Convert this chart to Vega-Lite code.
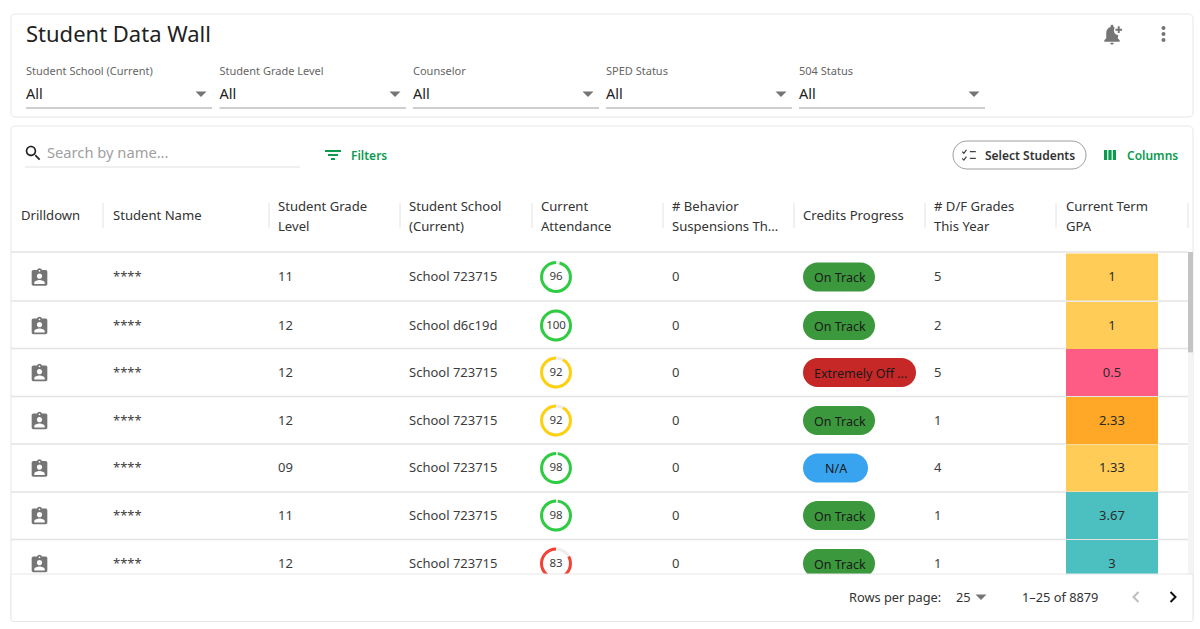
{
  "$schema": "https://vega.github.io/schema/vega-lite/v6.json",
  "width": 1200,
  "height": 629,
  "padding": 0,
  "autosize": {"type": "fit", "contains": "padding"},
  "background": "white",
  "config": {
    "view": {"stroke": null},
    "text": {"font": "Noto Sans", "baseline": "middle", "align": "left"}
  },
  "datasets": {
    "cards": [
      {"col": 1, "colEnd": 62, "row": -17, "rowEnd": -12},
      {"col": 1, "colEnd": 62, "row": -11, "rowEnd": 8.5}
    ],
    "headerSeparators": [
      {"col": 8, "row": -5, "rowEnd": -1}, {"col": 13, "row": -5, "rowEnd": -1}, {"col": 19, "row": -5, "rowEnd": -1},
      {"col": 23, "row": -5, "rowEnd": -1}, {"col": 29, "row": -5, "rowEnd": -1}, {"col": 33, "row": -5, "rowEnd": -1},
      {"col": 42, "row": -5, "rowEnd": -1}, {"col": 51, "row": -5, "rowEnd": -1}, {"col": 61, "row": -5, "rowEnd": -1}
    ],
    "rowRules": [
      {"col": 1, "colEnd": 61, "row": 0.5},
      {"col": 1, "colEnd": 61, "row": 1.5},
      {"col": 1, "colEnd": 61, "row": 2.5},
      {"col": 1, "colEnd": 61, "row": 3.5},
      {"col": 1, "colEnd": 61, "row": 4.5},
      {"col": 1, "colEnd": 61, "row": 5.5},
      {"col": 1, "colEnd": 61, "row": 6.5}
    ],
    "underlines": [
      {"col": 4, "colEnd": 11, "row": -13},
      {"col": 12, "colEnd": 20, "row": -13},
      {"col": 22, "colEnd": 27, "row": -13},
      {"col": 28, "colEnd": 32, "row": -13},
      {"col": 34, "colEnd": 49, "row": -13}
    ],
    "attendance": [
      {"col": 25, "row": 1, "attendance": 96},
      {"col": 25, "row": 2, "attendance": 100},
      {"col": 25, "row": 3, "attendance": 92},
      {"col": 25, "row": 4, "attendance": 92},
      {"col": 25, "row": 5, "attendance": 98},
      {"col": 25, "row": 6, "attendance": 98},
      {"col": 25, "row": 7, "attendance": 83}
    ],
    "credits": [
      {"col": 35, "colEnd": 40, "row": 1, "credits": "On Track"},
      {"col": 35, "colEnd": 40, "row": 2, "credits": "On Track"},
      {"col": 35, "colEnd": 41, "row": 3, "credits": "Extremely Off ..."},
      {"col": 35, "colEnd": 40, "row": 4, "credits": "On Track"},
      {"col": 35, "colEnd": 39, "row": 5, "credits": "N/A"},
      {"col": 35, "colEnd": 40, "row": 6, "credits": "On Track"},
      {"col": 35, "colEnd": 40, "row": 7, "credits": "On Track"}
    ],
    "creditLabels": [
      {"col": 36, "row": 1, "text": "On Track"},
      {"col": 36, "row": 2, "text": "On Track"},
      {"col": 36, "row": 3, "text": "Extremely Off ..."},
      {"col": 36, "row": 4, "text": "On Track"},
      {"col": 37, "row": 5, "text": "N/A"},
      {"col": 36, "row": 6, "text": "On Track"},
      {"col": 36, "row": 7, "text": "On Track"}
    ],
    "gpa": [
      {"col": 52, "colEnd": 58, "row": 1, "gpa": 1},
      {"col": 52, "colEnd": 58, "row": 2, "gpa": 1},
      {"col": 52, "colEnd": 58, "row": 3, "gpa": 0.5},
      {"col": 52, "colEnd": 58, "row": 4, "gpa": 2.33},
      {"col": 52, "colEnd": 58, "row": 5, "gpa": 1.33},
      {"col": 52, "colEnd": 58, "row": 6, "gpa": 3.67},
      {"col": 52, "colEnd": 58, "row": 7, "gpa": 3}
    ],
    "gpaLabels": [
      {"col": 55, "row": 1, "text": "1"},
      {"col": 55, "row": 2, "text": "1"},
      {"col": 55, "row": 3, "text": "0.5"},
      {"col": 55, "row": 4, "text": "2.33"},
      {"col": 55, "row": 5, "text": "1.33"},
      {"col": 55, "row": 6, "text": "3.67"},
      {"col": 55, "row": 7, "text": "3"}
    ],
    "cells": [
      {"col": 9, "row": 1, "text": "****"}, {"col": 14, "row": 1, "text": "11"}, {"col": 21, "row": 1, "text": "School 723715"}, {"col": 30, "row": 1, "text": "0"}, {"col": 43, "row": 1, "text": "5"},
      {"col": 9, "row": 2, "text": "****"}, {"col": 14, "row": 2, "text": "12"}, {"col": 21, "row": 2, "text": "School d6c19d"}, {"col": 30, "row": 2, "text": "0"}, {"col": 43, "row": 2, "text": "2"},
      {"col": 9, "row": 3, "text": "****"}, {"col": 14, "row": 3, "text": "12"}, {"col": 21, "row": 3, "text": "School 723715"}, {"col": 30, "row": 3, "text": "0"}, {"col": 43, "row": 3, "text": "5"},
      {"col": 9, "row": 4, "text": "****"}, {"col": 14, "row": 4, "text": "12"}, {"col": 21, "row": 4, "text": "School 723715"}, {"col": 30, "row": 4, "text": "0"}, {"col": 43, "row": 4, "text": "1"},
      {"col": 9, "row": 5, "text": "****"}, {"col": 14, "row": 5, "text": "09"}, {"col": 21, "row": 5, "text": "School 723715"}, {"col": 30, "row": 5, "text": "0"}, {"col": 43, "row": 5, "text": "4"},
      {"col": 9, "row": 6, "text": "****"}, {"col": 14, "row": 6, "text": "11"}, {"col": 21, "row": 6, "text": "School 723715"}, {"col": 30, "row": 6, "text": "0"}, {"col": 43, "row": 6, "text": "1"},
      {"col": 9, "row": 7, "text": "****"}, {"col": 14, "row": 7, "text": "12"}, {"col": 21, "row": 7, "text": "School 723715"}, {"col": 30, "row": 7, "text": "0"}, {"col": 43, "row": 7, "text": "1"}
    ],
    "headers": [
      {"col": 2, "row": -3, "text": "Drilldown"},
      {"col": 9, "row": -3, "text": "Student Name"},
      {"col": 14, "row": -4, "text": "Student Grade"},
      {"col": 14, "row": -2, "text": "Level"},
      {"col": 21, "row": -4, "text": "Student School"},
      {"col": 21, "row": -2, "text": "(Current)"},
      {"col": 24, "row": -4, "text": "Current"},
      {"col": 24, "row": -2, "text": "Attendance"},
      {"col": 30, "row": -4, "text": "# Behavior"},
      {"col": 30, "row": -2, "text": "Suspensions Th..."},
      {"col": 35, "row": -3, "text": "Credits Progress"},
      {"col": 43, "row": -4, "text": "# D/F Grades"},
      {"col": 43, "row": -2, "text": "This Year"},
      {"col": 52, "row": -4, "text": "Current Term"},
      {"col": 52, "row": -2, "text": "GPA"}
    ],
    "filterLabels": [
      {"col": 4, "row": -15, "text": "Student School (Current)"},
      {"col": 12, "row": -15, "text": "Student Grade Level"},
      {"col": 22, "row": -15, "text": "Counselor"},
      {"col": 28, "row": -15, "text": "SPED Status"},
      {"col": 34, "row": -15, "text": "504 Status"}
    ],
    "filterValues": [
      {"col": 4, "row": -14, "text": "All"},
      {"col": 12, "row": -14, "text": "All"},
      {"col": 22, "row": -14, "text": "All"},
      {"col": 28, "row": -14, "text": "All"},
      {"col": 34, "row": -14, "text": "All"}
    ],
    "footerLabels": [
      {"col": 38, "row": 8, "text": "Rows per page:"},
      {"col": 45, "row": 8, "text": "25"},
      {"col": 50, "row": 8, "text": "1–25 of 8879"}
    ],
    "greenLabels": [
      {"col": 17, "row": -8, "text": "Filters"},
      {"col": 56, "row": -8, "text": "Columns"}
    ],
    "carets": [
      {"col": 10, "row": -14}, {"col": 18, "row": -14}, {"col": 26, "row": -14},
      {"col": 31, "row": -14}, {"col": 47, "row": -14}, {"col": 48, "row": 8}
    ],
    "drilldown": [
      {"col": 6, "row": 1}, {"col": 6, "row": 2}, {"col": 6, "row": 3}, {"col": 6, "row": 4},
      {"col": 6, "row": 5}, {"col": 6, "row": 6}, {"col": 6, "row": 7}
    ]
  },
  "encoding": {
    "x": {
      "field": "col",
      "type": "quantitative",
      "axis": null,
      "scale": {
        "zero": false,
        "nice": false,
        "domain": [0, 1, 2, 3, 4, 5, 6, 7, 8, 9, 10, 11, 12, 13, 14, 15, 16, 17, 18, 19, 20, 21, 22, 23, 24, 25, 26, 27, 28, 29, 30, 31, 32, 33, 34, 35, 36, 37, 38, 39, 40, 41, 42, 43, 44, 45, 46, 47, 48, 49, 50, 51, 52, 53, 54, 55, 56, 57, 58, 59, 60, 61, 62, 63],
        "range": [0, 11, 21, 25, 26, 33, 39.5, 47, 103, 113, 201, 212, 219.5, 269, 278, 300, 333, 351, 395, 400, 406, 409, 413, 532, 541, 556, 588, 599, 606, 663, 672, 781, 792, 794, 799, 803, 814, 825, 849, 868, 875, 916, 925, 934, 953, 956, 969, 974, 981, 985, 1022, 1056, 1066, 1086, 1110, 1112, 1127, 1136, 1158, 1163.5, 1173, 1188, 1193, 1200]
      }
    },
    "y": {
      "field": "row",
      "type": "quantitative",
      "axis": null,
      "scale": {
        "zero": false,
        "nice": false,
        "domain": [-18, -17, -16, -15, -14, -13, -12, -11, -10, -9, -8, -7, -6, -5, -4, -3, -2, -1, 0.5, 1, 1.5, 2, 2.5, 3, 3.5, 4, 4.5, 5, 5.5, 6, 6.5, 7, 7.5, 8, 8.5, 9],
        "range": [0, 14, 34, 72, 94, 108, 117, 126, 141, 153, 155, 167, 169, 203, 206, 215, 226, 228, 252, 277, 301, 325.5, 348.5, 372.5, 396.5, 420.5, 444, 468, 492, 515.5, 539.5, 563.5, 574, 597, 621.5, 629]
      }
    }
  },
  "layer": [
    {
      "data": {"name": "cards"},
      "mark": {"type": "rect", "fill": "white", "stroke": "#e6e6e6", "cornerRadius": 4},
      "encoding": {"x2": {"field": "colEnd"}, "y2": {"field": "rowEnd"}}
    },
    {
      "data": {"name": "rowRules"},
      "mark": {"type": "rule", "stroke": "#e4e4e4", "strokeWidth": 1.5},
      "encoding": {"x2": {"field": "colEnd"}}
    },
    {
      "data": {"name": "underlines"},
      "mark": {"type": "rule", "stroke": "#9e9e9e", "strokeWidth": 1.2},
      "encoding": {"x2": {"field": "colEnd"}}
    },
    {
      "data": {"values": [{"col": 3, "colEnd": 15, "row": -7}]},
      "mark": {"type": "rule", "stroke": "#e0e0e0", "strokeWidth": 1},
      "encoding": {"x2": {"field": "colEnd"}}
    },
    {
      "data": {"name": "headerSeparators"},
      "mark": {"type": "rule", "stroke": "#e2e2e2", "strokeWidth": 1},
      "encoding": {"y2": {"field": "rowEnd"}}
    },
    {
      "data": {"values": [{"col": 61, "colEnd": 62, "row": 0.5, "rowEnd": 7.5}]},
      "mark": {"type": "rect", "fill": "#f4f4f4"},
      "encoding": {"x2": {"field": "colEnd"}, "y2": {"field": "rowEnd"}}
    },
    {
      "data": {"values": [{"col": 61, "colEnd": 62, "row": 0.5, "rowEnd": 2.58}]},
      "mark": {"type": "rect", "fill": "#c4c4c4"},
      "encoding": {"x2": {"field": "colEnd"}, "y2": {"field": "rowEnd"}}
    },
    {
      "data": {"name": "gpa"},
      "mark": {"type": "bar", "orient": "horizontal", "height": 47},
      "encoding": {
        "x2": {"field": "colEnd"},
        "color": {
          "field": "gpa",
          "type": "quantitative",
          "legend": null,
          "scale": {"type": "threshold", "domain": [1, 2, 3], "range": ["#ff5c85", "#ffcc57", "#ffa726", "#4cc0c0"]}
        }
      }
    },
    {
      "data": {"name": "gpaLabels"},
      "mark": {"type": "text", "align": "center", "fontSize": 13, "fill": "#2b2b2b"},
      "encoding": {"text": {"field": "text"}}
    },
    {
      "data": {"name": "credits"},
      "mark": {"type": "bar", "orient": "horizontal", "height": 29, "cornerRadius": 14.5},
      "encoding": {
        "x2": {"field": "colEnd"},
        "color": {
          "field": "credits",
          "type": "nominal",
          "legend": null,
          "scale": {"domain": ["On Track", "Extremely Off ...", "N/A"], "range": ["#3c983c", "#c62828", "#38a3ee"]}
        }
      }
    },
    {
      "data": {"name": "creditLabels"},
      "mark": {"type": "text", "fontSize": 12.5, "fill": "#1a1a1a", "dy": 1},
      "encoding": {"text": {"field": "text"}}
    },
    {
      "data": {"name": "attendance"},
      "mark": {"type": "point", "shape": "circle", "size": 841, "filled": false, "stroke": "#ececec", "strokeWidth": 3, "opacity": 1}
    },
    {
      "data": {"name": "attendance"},
      "mark": {"type": "arc", "innerRadius": 13, "outerRadius": 16},
      "encoding": {
        "theta": {"field": "attendance", "type": "quantitative", "stack": null, "scale": {"domain": [100, 0], "range": [0, 6.2832]}},
        "theta2": {"datum": 0},
        "color": {
          "field": "attendance",
          "type": "quantitative",
          "legend": null,
          "scale": {"type": "threshold", "domain": [90, 95], "range": ["#f44336", "#ffd10a", "#2ecc40"]}
        }
      }
    },
    {
      "data": {"name": "attendance"},
      "mark": {"type": "text", "align": "center", "fontSize": 11.5, "fill": "#3c3c3c"},
      "encoding": {"text": {"field": "attendance", "type": "nominal"}}
    },
    {
      "data": {"name": "cells"},
      "mark": {"type": "text", "fontSize": 13, "fill": "#3c3c3c"},
      "encoding": {"text": {"field": "text"}}
    },
    {
      "data": {"name": "drilldown"},
      "mark": {
        "type": "point",
        "filled": true,
        "fill": "#757575",
        "opacity": 1,
        "size": 3.03,
        "shape": "M7 -8h-4.18c-.42-1.16-1.52-2-2.82-2c-1.3 0-2.4.84-2.82 2h-4.18c-1.1 0-2 .9-2 2v14c0 1.1.9 2 2 2h14c1.1 0 2-.9 2-2v-14c0-1.1-.9-2-2-2zm-7 0c.55 0 1 .45 1 1s-.45 1-1 1s-1-.45-1-1s.45-1 1-1zm0 4c1.66 0 3 1.34 3 3s-1.34 3-3 3s-3-1.34-3-3s1.34-3 3-3zm6 12h-12v-1.4c0-2 4-3.1 6-3.1s6 1.1 6 3.1v1.4z"
      }
    },
    {
      "data": {"values": [{"col": 1, "colEnd": 62, "row": 7.5, "rowEnd": 8.5}]},
      "mark": {"type": "rect", "fill": "white", "stroke": "#e6e6e6", "cornerRadius": 2},
      "encoding": {"x2": {"field": "colEnd"}, "y2": {"field": "rowEnd"}}
    },
    {
      "data": {"values": [{"col": 44, "colEnd": 53, "row": -10, "rowEnd": -6}]},
      "mark": {"type": "rect", "fill": "white", "stroke": "#9e9e9e", "cornerRadius": 14},
      "encoding": {"x2": {"field": "colEnd"}, "y2": {"field": "rowEnd"}}
    },
    {
      "data": {"values": [{"col": 4, "row": -16, "text": "Student Data Wall"}]},
      "mark": {"type": "text", "fontSize": 22, "fill": "#212121", "dy": 1},
      "encoding": {"text": {"field": "text"}}
    },
    {
      "data": {"name": "filterLabels"},
      "mark": {"type": "text", "fontSize": 11, "fill": "#666666"},
      "encoding": {"text": {"field": "text"}}
    },
    {
      "data": {"name": "filterValues"},
      "mark": {"type": "text", "fontSize": 14.5, "fill": "#212121", "dy": 1},
      "encoding": {"text": {"field": "text"}}
    },
    {
      "data": {"values": [{"col": 7, "row": -9, "text": "Search by name..."}]},
      "mark": {"type": "text", "fontSize": 14.7, "fill": "#a0a0a0", "dy": 1},
      "encoding": {"text": {"field": "text"}}
    },
    {
      "data": {"name": "greenLabels"},
      "mark": {"type": "text", "fontSize": 12, "fontWeight": 600, "fill": "#0a9a50", "dy": 1},
      "encoding": {"text": {"field": "text"}}
    },
    {
      "data": {"values": [{"col": 49, "row": -8, "text": "Select Students"}]},
      "mark": {"type": "text", "fontSize": 12, "fontWeight": 600, "fill": "#333333", "dy": 1},
      "encoding": {"text": {"field": "text"}}
    },
    {
      "data": {"name": "headers"},
      "mark": {"type": "text", "fontSize": 13.1, "fontWeight": 400, "fill": "#333333", "dy": 1},
      "encoding": {"text": {"field": "text"}}
    },
    {
      "data": {"name": "footerLabels"},
      "mark": {"type": "text", "fontSize": 12.8, "fill": "#333333", "dy": 1},
      "encoding": {"text": {"field": "text"}}
    },
    {
      "data": {"name": "carets"},
      "mark": {"type": "point", "shape": "M-5.5 -2.5h11l-5.5 5.5z", "filled": true, "fill": "#757575", "opacity": 1, "size": 4}
    },
    {
      "data": {"values": [{"col": 5, "row": -9}]},
      "mark": {
        "type": "point", "filled": true, "fill": "#212121", "opacity": 1, "size": 2.6,
        "shape": "M-9 -2.5a6.5 6.5 0 1 1 13 0a6.5 6.5 0 1 1 -13 0z M-7 -2.5a4.5 4.5 0 1 0 9 0a4.5 4.5 0 1 0 -9 0z M2 3.5l1.5-1.5l5.5 5.5l-1.5 1.5z"
      }
    },
    {
      "data": {"values": [{"col": 16, "row": -8}]},
      "mark": {
        "type": "point", "filled": true, "fill": "#0a9a50", "opacity": 1, "size": 4,
        "shape": "M-8 -5h16v2h-16z M-5 -1h10v2h-10z M-2 3h4v2h-4z"
      }
    },
    {
      "data": {"values": [{"col": 54, "row": -8}]},
      "mark": {
        "type": "point", "filled": true, "fill": "#0a9a50", "opacity": 1, "size": 4,
        "shape": "M-6 -5h3.2v10h-3.2z M-1.6 -5h3.2v10h-3.2z M2.8 -5h3.2v10h-3.2z"
      }
    },
    {
      "data": {"values": [{"col": 46, "row": -8}]},
      "mark": {
        "type": "point", "filled": false, "fill": "none", "stroke": "#444444", "strokeWidth": 1.3, "opacity": 1, "size": 2.9,
        "shape": "M1 -4h7M1 4h7M-8 -4l2 2l3-4M-8 4l2 2l3-4"
      }
    },
    {
      "data": {"values": [{"col": 55, "row": -16}]},
      "mark": {
        "type": "point", "filled": true, "fill": "#757575", "opacity": 1, "size": 3.7,
        "shape": "M-1.9 9h3.8c0 1.1-.9 2-1.9 2s-1.9-.9-1.9-2z M8 6.5v1.5h-16v-1.5l2-2v-5.5c0-3 1.6-5.5 4.5-6.2v-.8c0-.8.7-1.5 1.5-1.5s1.5.7 1.5 1.5v.8c.5.1.9.3 1.3.5c-.5 1-.8 2-.8 3.2c0 2.5 2 4.5 4.5 4.5l-.5 3.5l2 2z M6 -8h2v2.5h2.5v2h-2.5v2.5h-2v-2.5h-2.5v-2h2.5z"
      }
    },
    {
      "data": {"values": [{"col": 59, "row": -16}]},
      "mark": {
        "type": "point", "filled": true, "fill": "#757575", "opacity": 1, "size": 4,
        "shape": "M-2 -6a2 2 0 1 0 4 0a2 2 0 1 0 -4 0z M-2 0a2 2 0 1 0 4 0a2 2 0 1 0 -4 0z M-2 6a2 2 0 1 0 4 0a2 2 0 1 0 -4 0z"
      }
    },
    {
      "data": {"values": [{"col": 57, "row": 8}]},
      "mark": {"type": "point", "filled": false, "fill": "none", "stroke": "#bdbdbd", "strokeWidth": 2, "opacity": 1, "size": 4, "shape": "M2.5 -5l-5 5l5 5"}
    },
    {
      "data": {"values": [{"col": 60, "row": 8}]},
      "mark": {"type": "point", "filled": false, "fill": "none", "stroke": "#111111", "strokeWidth": 2, "opacity": 1, "size": 4, "shape": "M-2.5 -5l5 5l-5 5"}
    }
  ]
}
